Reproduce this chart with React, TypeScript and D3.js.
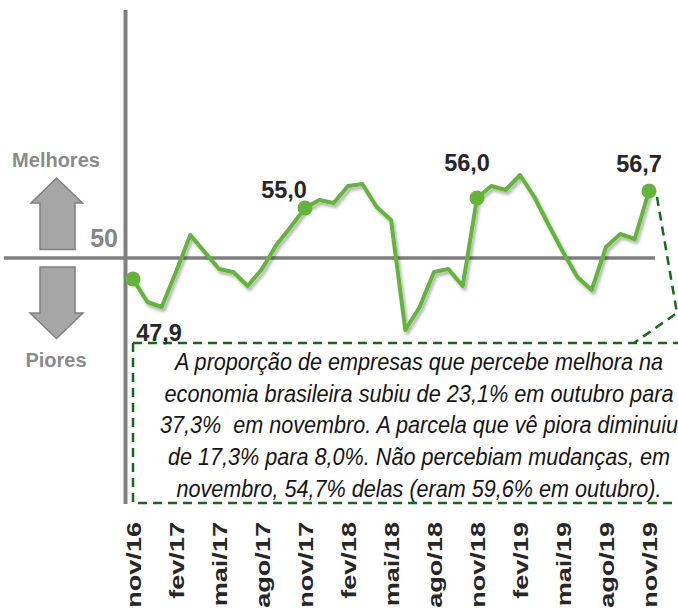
import React from "react";
import * as d3 from "d3";

const months: string[] = [
  "nov/16","dez/16","jan/17","fev/17","mar/17","abr/17","mai/17","jun/17","jul/17","ago/17","set/17","out/17",
  "nov/17","dez/17","jan/18","fev/18","mar/18","abr/18","mai/18","jun/18","jul/18","ago/18","set/18","out/18",
  "nov/18","dez/18","jan/19","fev/19","mar/19","abr/19","mai/19","jun/19","jul/19","ago/19","set/19","out/19",
  "nov/19",
];
const values: number[] = [
  47.9, 45.6, 45.1, 48.6, 52.3, 50.6, 48.9, 48.6, 47.2, 48.9, 51.3, 53.1,
  55.0, 55.8, 55.5, 57.2, 57.4, 55.1, 53.8, 42.8, 45.1, 48.6, 48.9, 47.2,
  56.0, 57.2, 56.8, 58.3, 56.1, 53.3, 50.6, 48.1, 46.8, 51.1, 52.4, 51.9,
  56.7,
];
const tickLabels: string[] = [
  "nov/16","fev/17","mai/17","ago/17","nov/17","fev/18","mai/18","ago/18","nov/18","fev/19","mai/19","ago/19","nov/19",
];
const highlighted: string[] = ["nov/16", "nov/17", "nov/18", "nov/19"];
const referenceLevel = 50;
const noteLines: string[] = [
  "A proporção de empresas que percebe melhora na",
  "economia brasileira subiu de 23,1% em outubro para",
  "37,3%  em novembro. A parcela que vê piora diminuiu",
  "de 17,3% para 8,0%. Não percebiam mudanças, em",
  "novembro, 54,7% delas (eram 59,6% em outubro).",
];
const noteWidths: number[] = [488, 509, 518, 502, 485];

const GREEN = "#64b43a";
const GRAY = "#7f7f7f";
const DASH = "#16691a";

export default function App() {
  const x = d3.scalePoint<string>().domain(months).range([133, 649]);
  const y = d3.scaleLinear().domain([40, 60]).range([358, 158]);
  const line = d3
    .line<number>()
    .x((_, i) => x(months[i]) as number)
    .y((d) => y(d));
  const y50 = y(referenceLevel);
  const fmt = (v: number) => v.toFixed(1).replace(".", ",");

  const labelPos: Record<string, { dx: number; dy: number }> = {
    "nov/16": { dx: 26, dy: 62 },
    "nov/17": { dx: -21, dy: -10 },
    "nov/18": { dx: -10, dy: -27 },
    "nov/19": { dx: -10, dy: -19 },
  };

  const lastX = x("nov/19") as number;
  const lastY = y(values[values.length - 1]);

  return (
    <svg
      width={678}
      height={608}
      style={{ position: "absolute", left: 0, top: 0, background: "#fff" }}
      fontFamily="'Liberation Sans', Arial, sans-serif"
    >
      <defs>
        <filter id="shadow" x="-10%" y="-10%" width="120%" height="130%">
          <feDropShadow dx="2" dy="3" stdDeviation="1.8" floodColor="#000" floodOpacity="0.3" />
        </filter>
      </defs>

      {/* axes */}
      <line x1={125.5} x2={125.5} y1={10} y2={504} stroke={GRAY} strokeWidth={4} />
      <line x1={4} x2={655} y1={y50} y2={y50} stroke={GRAY} strokeWidth={3.5} />

      {/* side labels and arrows */}
      <text x={56} y={167} textAnchor="middle" fontSize={20} fontWeight="bold" fill="#8a8a8a">Melhores</text>
      <text x={56} y={367} textAnchor="middle" fontSize={20} fontWeight="bold" fill="#8a8a8a">Piores</text>
      <text x={118} y={247} textAnchor="end" fontSize={25} fontWeight="bold" fill="#858585">{referenceLevel}</text>
      <polygon
        points="56.5,178 82.5,203 75,203 75,249.5 40,249.5 40,203 31,203"
        fill="#a6a6a6" stroke="#7f7f7f" strokeWidth={1.5}
      />
      <polygon
        points="40,267 75,267 75,313 83,313 56.5,338.5 30,313 40,313"
        fill="#a6a6a6" stroke="#7f7f7f" strokeWidth={1.5}
      />

      {/* annotation box */}
      <path
        d={`M${lastX + 8},${lastY + 6} L677,313 L634,343 M133,343 L700,343 M133,343 L133,503 L700,503`}
        fill="none" stroke={DASH} strokeWidth={2.5} strokeDasharray="9,6"
      />
      {noteLines.map((t, i) => (
        <text
          key={i}
          transform={`translate(419,${370 + i * 31.7}) scale(1,1.1)`}
          textAnchor="middle"
          fontSize={21.5}
          fontStyle="italic"
          fill="#141414"
          textLength={noteWidths[i]}
          lengthAdjust="spacingAndGlyphs"
          style={{ whiteSpace: "pre" }}
        >
          {t}
        </text>
      ))}

      {/* series */}
      <path d={line(values) || ""} fill="none" stroke={GREEN} strokeWidth={4} strokeLinejoin="round" filter="url(#shadow)" />
      {highlighted.map((m) => {
        const i = months.indexOf(m);
        const cx = x(m) as number;
        const cy = y(values[i]);
        const p = labelPos[m];
        return (
          <g key={m}>
            <circle cx={cx} cy={cy} r={7.5} fill={GREEN} />
            <text x={cx + p.dx} y={cy + p.dy} textAnchor="middle" fontSize={23.5} fontWeight="bold" fill="#262626">
              {fmt(values[i])}
            </text>
          </g>
        );
      })}

      {/* x tick labels */}
      {tickLabels.map((m) => {
        const cx = x(m) as number;
        return (
          <text
            key={m}
            transform={`translate(${cx + 7.5},522) rotate(-90) scale(1.29,1)`}
            textAnchor="end"
            fontSize={21}
            fontWeight="bold"
            fill="#262626"
          >
            {m}
          </text>
        );
      })}
    </svg>
  );
}
